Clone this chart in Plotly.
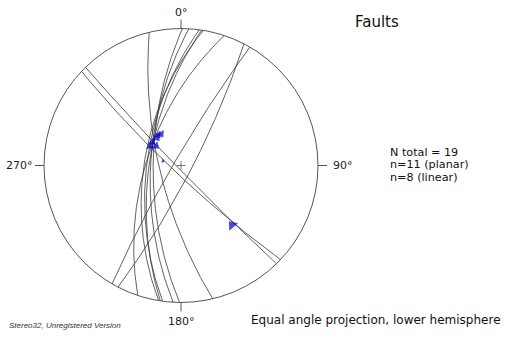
import numpy as np
import plotly.graph_objects as go

# ---- Data ----
# Fault planes: dip direction / dip (degrees)
plane_dipdir = [256.6, 270.6, 273.3, 277.7, 278.7, 279.4, 288.4, 117.4, 300.2, 223.4, 225.8]
plane_dip = [72, 67, 65, 62, 64, 60, 62, 81, 84, 83, 87]

# Striations (linear data): trend / plunge, slip sense (-1 = arrow toward centre)
line_trend = [323.0, 327.6, 318.9, 309.0, 302.2, 308.0, 284.0, 139.4]
line_plunge = [58.8, 59.6, 60.2, 59.6, 60.1, 64.0, 74.5, 30.4]
line_sense = [-1, -1, -1, -1, -1, -1, -1, -1]

direction_ticks = [0, 90, 180, 270]
direction_labels = ["0°", "90°", "180°", "270°"]

title_text = "Faults"
stats_text = ["N total = 19", "n=11 (planar)", "n=8 (linear)"]
footer_text = "Equal angle projection, lower hemisphere"
credit_text = "Stereo32, Unregistered Version"

# ---- Layout geometry (pixels) ----
W, H = 509, 340
CX, CY, R = 181.0, 165.5, 137.0


def proj(trend, plunge):
    """Equal-angle (stereographic) lower hemisphere projection, unit radius."""
    t = np.radians(trend)
    rho = np.tan(np.radians(90.0 - np.asarray(plunge)) / 2.0)
    return rho * np.sin(t), rho * np.cos(t)


fig = go.Figure()

# great circles
for dd, dip in zip(plane_dipdir, plane_dip):
    a = np.linspace(dd - 90, dd + 90, 721)
    p = np.degrees(np.arctan(np.tan(np.radians(dip)) * np.cos(np.radians(a - dd))))
    p = np.clip(p, 0, 90)
    x, y = proj(a, p)
    fig.add_trace(go.Scatter(x=x, y=y, mode="lines",
                             line=dict(color="#3a3a3a", width=0.8),
                             hoverinfo="skip", showlegend=False))

# striation arrows
lx, ly = proj(np.array(line_trend), np.array(line_plunge))
angles = [(t if s > 0 else t + 180) % 360 for t, s in zip(line_trend, line_sense)]
sizes = [4 if p > 70 else (8 if p > 50 else 10) for p in line_plunge]
fig.add_trace(go.Scatter(x=lx, y=ly, mode="markers",
                         marker=dict(symbol="triangle-up", size=sizes, angle=angles,
                                     color="#0000cc", line=dict(width=0)),
                         hoverinfo="skip", showlegend=False))

# primitive circle
fig.add_shape(type="circle", xref="x", yref="y", x0=-1, y0=-1, x1=1, y1=1,
              line=dict(color="#555555", width=1))

# centre cross
c = 4.5 / R
fig.add_shape(type="line", xref="x", yref="y", x0=-c, x1=c, y0=0, y1=0,
              line=dict(color="#555555", width=0.8))
fig.add_shape(type="line", xref="x", yref="y", x0=0, x1=0, y0=-c, y1=c,
              line=dict(color="#555555", width=0.8))

# direction ticks and labels
tick_len = 9 / R
for az, lab in zip(direction_ticks, direction_labels):
    s, co = np.sin(np.radians(az)), np.cos(np.radians(az))
    fig.add_shape(type="line", xref="x", yref="y", x0=s, y0=co,
                  x1=s * (1 + tick_len), y1=co * (1 + tick_len),
                  line=dict(color="#555555", width=1))
    if az == 0:
        fig.add_annotation(x=0, y=1 + tick_len, text=lab, showarrow=False,
                           xanchor="center", yanchor="bottom", yshift=-1)
    elif az == 180:
        fig.add_annotation(x=0, y=-1 - tick_len, text=lab, showarrow=False,
                           xanchor="center", yanchor="top", yshift=-1)
    elif az == 90:
        fig.add_annotation(x=1 + tick_len, y=0, text=lab, showarrow=False,
                           xanchor="left", yanchor="middle", xshift=4)
    else:
        fig.add_annotation(x=-1 - tick_len, y=0, text=lab, showarrow=False,
                           xanchor="right", yanchor="middle", xshift=0)

# texts in paper pixels (converted to data coords)
def px(xp, yp):
    return (xp - CX) / R, (CY - yp) / R

tx, ty = px(377, 22)
fig.add_annotation(x=tx, y=ty, text=title_text, showarrow=False,
                   xanchor="center", yanchor="middle",
                   font=dict(size=15, color="#111111"))
for i, line in enumerate(stats_text):
    sx, sy = px(389, 152 + 12.5 * i)
    fig.add_annotation(x=sx, y=sy, text=line, showarrow=False,
                       xanchor="left", yanchor="middle", align="left",
                       borderpad=0,
                       font=dict(size=11.2, color="#111111"))
fx, fy = px(249, 320)
fig.add_annotation(x=fx, y=fy, text=footer_text, showarrow=False,
                   xanchor="left", yanchor="middle",
                   font=dict(size=12, color="#111111"))
cx_, cy_ = px(7, 325)
fig.add_annotation(x=cx_, y=cy_, text="<i>" + credit_text + "</i>", showarrow=False,
                   xanchor="left", yanchor="middle",
                   font=dict(size=8, color="#333333", family="Liberation Sans"))

fig.update_xaxes(range=[-CX / R, (W - CX) / R], visible=False, fixedrange=True)
fig.update_yaxes(range=[(CY - H) / R, CY / R], visible=False, fixedrange=True)
fig.update_layout(width=W, height=H, margin=dict(l=0, r=0, t=0, b=0),
                  paper_bgcolor="white", plot_bgcolor="white",
                  font=dict(family="DejaVu Sans", size=11, color="#222222"))

fig.write_html("out.html", config={"displayModeBar": False},
               post_script="document.body.style.margin='0';document.body.style.overflow='hidden';")
